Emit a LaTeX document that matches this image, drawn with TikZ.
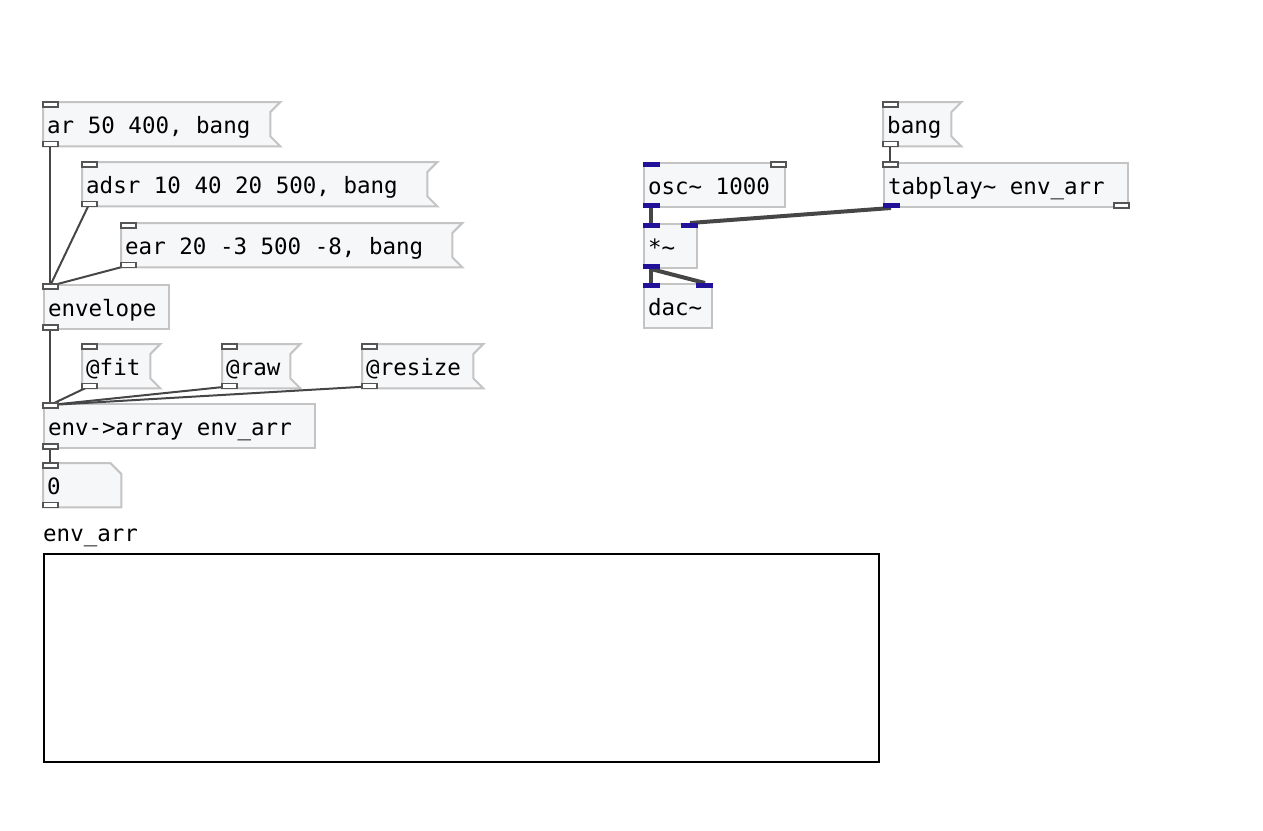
\documentclass[tikz,border=0pt]{standalone}
\usepackage{fontspec}
\usepackage{xcolor}
\usepackage{tikz}
\newfontfamily\pdmono{DejaVu Sans Mono}
\newcommand\patchfont{\pdmono\fontsize{22.5}{26}\selectfont}
\usetikzlibrary{positioning,calc,backgrounds}

\definecolor{boxgray}{RGB}{196,196,196}
\definecolor{boxfill}{RGB}{246,247,249}
\definecolor{portgray}{RGB}{85,85,85}
\definecolor{sigblue}{RGB}{34,17,153}
\definecolor{wiregray}{RGB}{70,70,70}

\tikzset{
    box/.style={anchor=north west, inner xsep=4pt, inner ysep=0pt, minimum height=44pt,
        text height=20pt, text depth=2pt, align=flush left, font=\patchfont},
    obj/.style={box, draw=boxgray, fill=boxfill, line width=2pt, text width=#1},
    msg/.style={box, text width=#1},
    flag/.style={draw=boxgray, fill=boxfill, line width=2pt},
    ctl/.style={draw=portgray, fill=white, line width=1.5pt},
    sig/.style={fill=sigblue},
    wire/.style={draw=wiregray, line width=2pt},
    sigwire/.style={draw=wiregray, line width=4pt}
}

\begin{document}
\begin{tikzpicture}[x=1pt, y=-1pt]
    \useasboundingbox (0,0) rectangle (1263,830);

    % Envelope messages
    \node[msg=219pt] (ar) at (43,102) {ar 50 400, bang};
    \node[msg=337pt] (adsr) at (82,162) {adsr 10 40 20 500, bang};
    \node[msg=323pt] (ear) at (121,223) {ear 20 -3 500 -8, bang};
    \node[obj=117pt] (envelope) at (43,284) {envelope};

    % Array options
    \node[msg=60pt] (fit) at (82,344) {@fit};
    \node[msg=60pt] (raw) at (222,344) {@raw};
    \node[msg=103pt] (resize) at (362,344) {@resize};
    \node[obj=263pt] (envarr) at (43,403) {env->array env\_arr};
    \node[msg=70pt] (zero) at (43,463) {0};

    % Playback
    \node[msg=60pt] (bang) at (883,102) {bang};
    \node[obj=133pt] (osc) at (643,162) {osc\textasciitilde{} 1000};
    \node[obj=236pt] (tabplay) at (883,162) {tabplay\textasciitilde{} env\_arr};
    \node[obj=45pt] (mul) at (643,223) {*\textasciitilde};
    \node[obj=60pt] (dac) at (643,283) {dac\textasciitilde};

    % Array graph
    \node[font=\patchfont, anchor=base west, inner sep=0pt] (arrname) at (43,541) {env\_arr};
    \node[draw=black, line width=2pt, anchor=north west, minimum width=835pt, minimum height=208pt] (graph) at (43,553) {};

    % Flag and atom outlines
    \begin{scope}[on background layer]
        \foreach \m in {ar,adsr,ear,fit,raw,resize,bang}
            \filldraw[flag] (\m.north west) -- ($(\m.north east)+(10,0)$) -- ($(\m.north east)+(0,10)$)
                -- ($(\m.south east)+(0,-10)$) -- ($(\m.south east)+(10,0)$) -- (\m.south west) -- cycle;
        \filldraw[flag] (zero.north west) -- ($(zero.north east)+(-11,0)$) -- ($(zero.north east)+(0,11)$)
            -- (zero.south east) -- (zero.south west) -- cycle;
    \end{scope}

    % Control wires
    \foreach \a/\b in {ar/envelope,adsr/envelope,ear/envelope,envelope/envarr,fit/envarr,raw/envarr,resize/envarr,envarr/zero,bang/tabplay}
        \draw[wire] ([xshift=7pt,yshift=2pt]\a.south west) -- ([xshift=7pt,yshift=-2pt]\b.north west);

    % Signal wires
    \draw[sigwire] ([xshift=8pt]osc.south west) -- ([xshift=8pt]mul.north west);
    \draw[sigwire] ([xshift=8pt]tabplay.south west) -- ([xshift=-8pt]mul.north east);
    \draw[sigwire] ([xshift=8pt]mul.south west) -- ([xshift=8pt]dac.north west);
    \draw[sigwire] ([xshift=8pt]mul.south west) -- ([xshift=-8pt]dac.north east);

    % Control inlets and outlets
    \foreach \b in {ar,adsr,ear,envelope,fit,raw,resize,envarr,zero,bang,tabplay}
        \draw[ctl] (\b.north west) rectangle ++(15,5);
    \foreach \b in {ar,adsr,ear,envelope,fit,raw,resize,envarr,zero,bang}
        \draw[ctl] ($(\b.south west)+(0,-5)$) rectangle ++(15,5);
    \draw[ctl] ($(osc.north east)+(-15,0)$) rectangle ++(15,5);
    \draw[ctl] ($(tabplay.south east)+(-15,-5)$) rectangle ++(15,5);

    % Signal inlets and outlets
    \foreach \b in {osc,mul,dac}
        \fill[sig] (\b.north west) rectangle ++(17,5);
    \foreach \b in {mul,dac}
        \fill[sig] ($(\b.north east)+(-17,0)$) rectangle ++(17,5);
    \foreach \b in {osc,tabplay,mul}
        \fill[sig] ($(\b.south west)+(0,-5)$) rectangle ++(17,5);
\end{tikzpicture}
\end{document}
